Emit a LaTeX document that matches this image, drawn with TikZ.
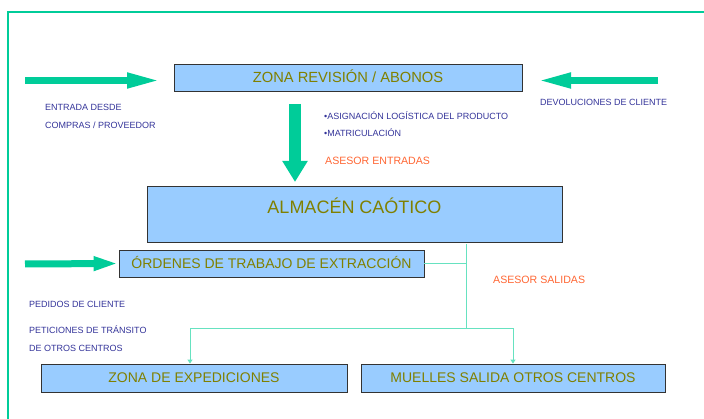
\documentclass[tikz,border=0pt]{standalone}
\usepackage{fontspec}
\setmainfont{Liberation Sans}
\usetikzlibrary{arrows.meta}
\definecolor{boxblue}{RGB}{153,204,255}
\definecolor{boxolive}{RGB}{128,128,0}
\definecolor{notenavy}{RGB}{51,51,153}
\definecolor{asesorred}{RGB}{255,102,51}
\definecolor{flowgreen}{RGB}{0,204,153}
\definecolor{linkgreen}{RGB}{102,226,192}

\begin{document}
\begin{tikzpicture}[x=1pt,y=-1pt,
	zonebox/.style={rectangle,draw=black!80,line width=0.8pt,fill=boxblue,text=boxolive,inner sep=0pt,
		font=\fontsize{14}{16}\selectfont,text height=10pt,text depth=0pt,minimum height=27pt},
	bignode/.style={zonebox,font=\fontsize{18}{20}\selectfont,text height=13pt,text depth=14pt,minimum height=56pt},
	bluenote/.style={anchor=west,inner sep=0pt,text=notenavy,font=\fontsize{9}{10}\selectfont,text height=6.4pt,text depth=0pt},
	rednote/.style={anchor=west,inner sep=0pt,text=asesorred,font=\fontsize{10.6}{12}\selectfont,text height=7.6pt,text depth=0pt},
	fatarrow/.style={draw=flowgreen,line width=7pt,-{Triangle[length=34pt,width=14pt]}},
	downarrow/.style={draw=flowgreen,line width=12pt,-{Triangle[length=21pt,width=24pt]}},
	link/.style={draw=linkgreen,line width=1pt},
	linkarrow/.style={link,-{Triangle[length=4pt,width=5pt]}}
]
\useasboundingbox (0,0) rectangle (704,419);

% frame
\draw[flowgreen,line width=1.6pt] (8,419) -- (8,12) -- (704,12);

\node (zona) [zonebox,minimum width=348pt,font=\fontsize{14.7}{16}\selectfont,text height=10.5pt] at (348,77.5) {ZONA REVISIÓN / ABONOS};
\node (almacen) [bignode,minimum width=415pt] at (354.5,214) {ALMACÉN CAÓTICO};
\node (ordenes) [zonebox,minimum width=305pt] at (271.5,263.5) {ÓRDENES DE TRABAJO DE EXTRACCIÓN};
\node (expedic) [zonebox,minimum width=306pt,minimum height=28pt] at (194,378) {ZONA DE EXPEDICIONES};
\node (muelles) [zonebox,minimum width=304pt,minimum height=28pt] at (513,378) {MUELLES SALIDA OTROS CENTROS};

\node (entrada) [bluenote] at (45,107) {ENTRADA DESDE};
\node (compras) [bluenote] at (45,125) {COMPRAS / PROVEEDOR};
\node (devol) [bluenote] at (540,102) {DEVOLUCIONES DE CLIENTE};
\node (asig) [bluenote] at (324,116) {•ASIGNACIÓN LOGÍSTICA DEL PRODUCTO};
\node (matric) [bluenote] at (324,133) {•MATRICULACIÓN};
\node (pedidos) [bluenote] at (29,304) {PEDIDOS DE CLIENTE};
\node (petic) [bluenote] at (29,330) {PETICIONES DE TRÁNSITO};
\node (otros) [bluenote] at (29,348) {DE OTROS CENTROS};
\node (asesorent) [rednote] at (325,161) {ASESOR ENTRADAS};
\node (asesorsal) [rednote] at (493,280) {ASESOR SALIDAS};

\coordinate (srcleft) at (25,80.5);
\coordinate (tipleft) at (161,80.5);
\coordinate (srcright) at (658,80.5);
\coordinate (tipright) at (537,80.5);
\coordinate (srcorden) at (25,264);
\coordinate (srcdown) at (295,104);
\coordinate (tipdown) at (295,182);
\coordinate (saltop) at (466,244);
\coordinate (split) at (466,329);

\draw[fatarrow] (srcleft) -- (tipleft);
\draw[fatarrow] (srcright) -- (tipright);
\draw[fatarrow,-{Triangle[length=25pt,width=13pt]}] (srcorden) -- (ordenes.west);
\draw[downarrow] (srcdown) -- (tipdown);

\draw[link] (ordenes.east) -- (ordenes.east -| split);
\draw[link] (saltop) -- (split);
\draw[linkarrow] (split) -| ([xshift=-4pt]expedic.north);
\draw[linkarrow] (split) -| (muelles.north);
\end{tikzpicture}
\end{document}
